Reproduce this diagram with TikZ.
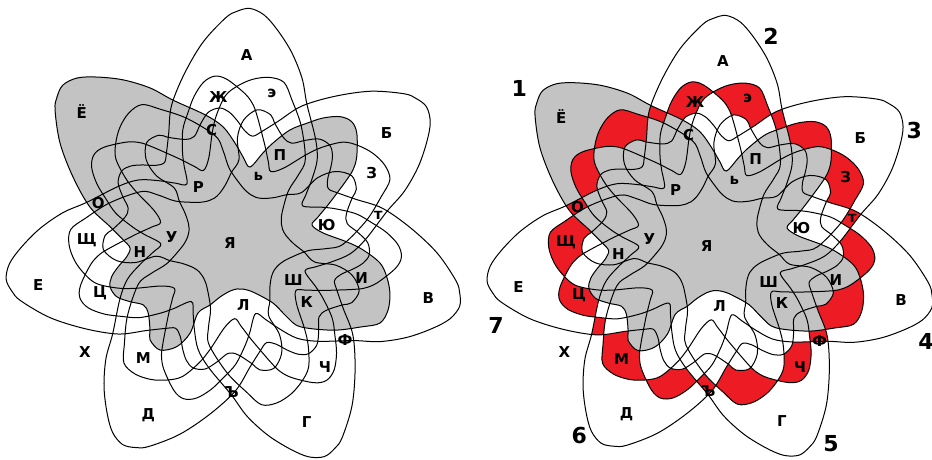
\documentclass[tikz,border=0pt]{standalone}
\usepackage{fontspec}
\setmainfont{DejaVu Sans}
\definecolor{vgray}{HTML}{C3C3C3}
\definecolor{vred}{HTML}{ED1C24}
\newcommand\vcurve{plot[smooth cycle,tension=0.55] coordinates {(-88.8:48) (-82.9:48.4) (-77.3:50.2) (-69.9:55.4) (-59.1:72.6) (-56.2:91) (-53.2:107) (-42.5:132) (-34.4:152) (-29.7:165.7) (-24.4:167) (-18.7:162.5) (-13.4:155) (-8.7:145.7) (-4:127.3) (-0.5:111) (5.3:87.4) (11.9:77.7) (16.3:85.4) (21.4:98.8) (25.7:113) (28.9:126.4) (31.3:136.9) (34.9:147.2) (41.7:161.8) (45.9:166.2) (50.1:162.1) (54.7:150.7) (59:137.3) (64.1:123.4) (69.3:104.8) (73:92) (79.3:75.3) (85:84) (90.6:98) (96.5:115) (103.8:130) (114:154) (119.3:175.5) (125:196.7) (130.3:215) (134.3:227.7) (138:233) (141.2:229.7) (144.1:223.4) (150.9:201.4) (158.6:175) (166.9:150) (173.5:126.8) (179.5:112.7) (183.8:106.2) (188.2:110.4) (192.3:120.5) (196:129.3) (199.9:134) (205:131.7) (209.8:122.1) (214.6:112.6) (219.5:113.7) (226:123.8) (229:131) (235.1:132.9) (240.7:121.2) (243.5:103.1) (242.2:81.4) (247.9:69.1) (254.1:58.2) (263.2:50.4)}}
\tikzset{
  vline/.style={draw=black,line width=1pt},
  lab/.style={font=\bfseries\fontsize{15}{15}\selectfont,inner sep=0pt},
  num/.style={font=\bfseries\fontsize{22}{22}\selectfont,inner sep=0pt}
}
\newcommand\vlabels[1]{%
  \node[lab] (#1a) at (246.7,-55) {А};
  \node[lab] (#1b) at (386.7,-133.3) {Б};
  \node[lab] (#1v) at (428.3,-298.3) {В};
  \node[lab] (#1g) at (306.7,-421.7) {Г};
  \node[lab] (#1d) at (148.3,-415) {Д};
  \node[lab] (#1e) at (38.3,-285) {Е};
  \node[lab] (#1yo) at (81.7,-111.7) {Ё};
  \node[lab] (#1zh) at (218.3,-96.7) {Ж};
  \node[lab] (#1z) at (371.7,-173.3) {З};
  \node[lab] (#1i) at (361.7,-278.3) {И};
  \node[lab] (#1k) at (306.7,-301.7) {К};
  \node[lab] (#1l) at (243.3,-305) {Л};
  \node[lab] (#1m) at (143.3,-358.3) {М};
  \node[lab] (#1n) at (140,-251.7) {Н};
  \node[lab] (#1o) at (98.3,-203.3) {О};
  \node[lab] (#1p) at (280,-155) {П};
  \node[lab] (#1r) at (198.3,-186.7) {Р};
  \node[lab] (#1s) at (211.7,-130) {С};
  \node[lab] (#1t) at (378.3,-215) {т};
  \node[lab] (#1u) at (171.7,-236.7) {У};
  \node[lab] (#1f) at (345,-340) {Ф};
  \node[lab] (#1kh) at (85,-351.7) {Х};
  \node[lab] (#1ts) at (100,-293.3) {Ц};
  \node[lab] (#1ch) at (325,-366.7) {Ч};
  \node[lab] (#1sh) at (293.3,-280) {Ш};
  \node[lab] (#1shch) at (86.7,-240) {Щ};
  \node[lab] (#1hard) at (231.7,-391.7) {Ъ};
  \node[lab] (#1soft) at (258.3,-176.7) {ь};
  \node[lab] (#1ee) at (271.7,-93.3) {э};
  \node[lab] (#1yu) at (326.7,-225) {Ю};
  \node[lab] (#1ya) at (230,-243.3) {Я};
}
\begin{document}
\begin{tikzpicture}[x=1pt,y=1pt]
\useasboundingbox (0,0) rectangle (932,-460);
% ---------- left diagram ----------
\begin{scope}[shift={(236,-241)}]
  \fill[vgray] \vcurve;
  \foreach \k in {0,...,6}{\draw[vline,rotate=-\k*360/7] \vcurve;}
\end{scope}
\vlabels{L}
% ---------- right diagram ----------
\begin{scope}[shift={(481,-7.2)},scale=0.981]
  \begin{scope}[shift={(236,-241)}]
    \fill[vgray] \vcurve;
    \foreach \i in {0,...,5}{
      \pgfmathtruncatemacro\ia{\i+1}
      \foreach \j in {\ia,...,6}{
        \begin{scope}
          \clip[rotate=-\i*360/7] \vcurve;
          \clip[rotate=-\j*360/7] \vcurve;
          \fill[vred] (-300,-300) rectangle (300,300);
        \end{scope}
      }
    }
    \foreach \i in {1,...,4}{
      \pgfmathtruncatemacro\ia{\i+1}
      \foreach \j in {\ia,...,5}{
        \pgfmathtruncatemacro\ja{\j+1}
        \foreach \k in {\ja,...,6}{
          \begin{scope}
            \clip[rotate=-\i*360/7] \vcurve;
            \clip[rotate=-\j*360/7] \vcurve;
            \clip[rotate=-\k*360/7] \vcurve;
            \fill[white] (-300,-300) rectangle (300,300);
          \end{scope}
        }
      }
    }
    \foreach \j in {1,...,5}{
      \pgfmathtruncatemacro\ja{\j+1}
      \foreach \k in {\ja,...,6}{
        \begin{scope}
          \clip \vcurve;
          \clip[rotate=-\j*360/7] \vcurve;
          \clip[rotate=-\k*360/7] \vcurve;
          \fill[vgray] (-300,-300) rectangle (300,300);
        \end{scope}
      }
    }
    \foreach \k in {0,...,6}{\draw[vline,rotate=-\k*360/7] \vcurve;}
  \end{scope}
  \vlabels{R}
\end{scope}
\node[num] (n1) at (519.3,-88.3) {1};
\node[num] (n2) at (771,-36.7) {2};
\node[num] (n3) at (914.3,-130) {3};
\node[num] (n4) at (926,-341.7) {4};
\node[num] (n5) at (831,-443.3) {5};
\node[num] (n6) at (579.3,-435) {6};
\node[num] (n7) at (496,-325) {7};
\end{tikzpicture}
\end{document}
